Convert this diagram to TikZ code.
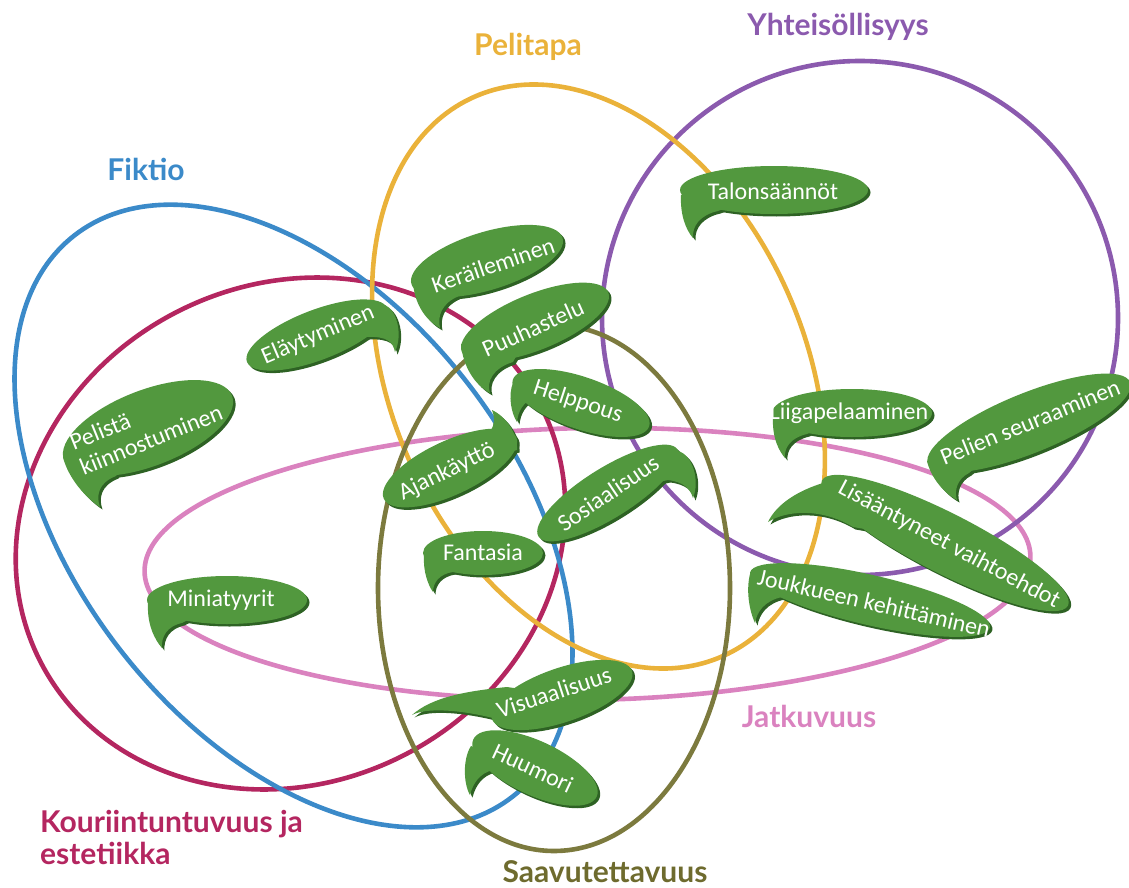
\documentclass[tikz,border=0pt]{standalone}
\usepackage{fontspec}
\setmainfont{Carlito}
\newfontfamily\titlefont{Lato}
\definecolor{corange}{HTML}{EAB23A}
\definecolor{cpurple}{HTML}{8B5AAE}
\definecolor{cblue}{HTML}{3B8AC9}
\definecolor{ccrimson}{HTML}{B42660}
\definecolor{cpink}{HTML}{DA82BF}
\definecolor{colive}{HTML}{7C7A3E}
\definecolor{ctolive}{HTML}{6E6B2E}
\definecolor{bgreen}{HTML}{52983E}
\definecolor{bshadow}{HTML}{2E6224}
\tikzset{
  ring/.style={line width=4.6pt},
  bubfill/.style={fill=bgreen},
  bubshadow/.style={fill=bshadow},
  btext/.style={text=white,inner sep=0pt,font=\fontsize{24}{27}\selectfont},
  ttl/.style={inner sep=0pt,font=\titlefont\bfseries\fontsize{30}{32}\selectfont},
}
\newcommand\bub[6]{%
  \begin{scope}[shift={(#1+2.5,-#2-2.5)}]
    \fill[bubshadow,rotate=#3] (0,0) ellipse [x radius=#4, y radius=#5];
    \fill[bubshadow] #6;
  \end{scope}
  \begin{scope}[shift={(#1,-#2)}]
    \fill[bubfill,rotate=#3] (0,0) ellipse [x radius=#4, y radius=#5];
    \fill[bubfill] #6;
  \end{scope}}
\begin{document}
\begin{tikzpicture}[x=1pt,y=1pt]
\useasboundingbox (0,0) rectangle (1129,-888);
% category ellipses
\draw[ring,cpink] (587.5,-564) ellipse [x radius=443, y radius=136, rotate=1];
\draw[ring,ccrimson,rotate around={27:(290.5,-533.5)}] (290.5,-533.5) ellipse [x radius=281, y radius=249];
\draw[ring,cblue,rotate around={38:(293.5,-516)}] (293.5,-516) ellipse [x radius=219, y radius=356];
\draw[ring,cpurple] (860,-318) ellipse [x radius=258, y radius=257];
\draw[ring,corange,rotate around={24:(598.5,-376.5)}] (598.5,-376.5) ellipse [x radius=207, y radius=306];
\draw[ring,colive] (554,-588) ellipse [x radius=176, y radius=263];
% titles
\node[ttl,text=corange] (tpeli) at (528,-47) {Pelitapa};
\node[ttl,text=cpurple] (tyht) at (838,-27) {Yhteisöllisyys};
\node[ttl,text=cblue] (tfik) at (146,-169) {Fiktio};
\node[ttl,text=ccrimson,align=left,anchor=north west] (tkou) at (40,-810) {Kouriintuntuvuus ja\\estetiikka};
\node[ttl,text=cpink] (tjat) at (809,-716) {Jatkuvuus};
\node[ttl,text=ctolive] (tsaa) at (605,-872) {Saavutettavuus};
% bubbles
\bub{774}{190}{0}{94}{24}{(-93,-5) .. controls (-94,-25) and (-88,-40) .. (-81,-48) .. controls (-82,-36) and (-74,-25) .. (-56,-21) -- (0,0) -- cycle}
\node[btext] (talon) at (773,-191) {Talonsäännöt};
\bub{487}{261}{17}{79}{29}{(-74,-22) .. controls (-72,-45) and (-60,-60) .. (-47,-67) .. controls (-50,-55) and (-45,-42) .. (-28,-35) -- (0,0) -- cycle}
\node[btext,rotate=19] (kerail) at (493,-265) {Keräileminen};
\bub{317}{335}{21}{75}{25}{(68,30) .. controls (80,25) and (86,0) .. (78,-17) .. controls (76,-7) and (70,-1) .. (50,-2) -- (0,0) -- cycle}
\node[btext,rotate=23] (elay) at (318,-335) {Eläytyminen};
\bub{535}{322}{22}{79}{28}{(-74,-22) .. controls (-72,-45) and (-60,-63) .. (-45,-71) .. controls (-49,-60) and (-42,-46) .. (-22,-40) -- (0,0) -- cycle}
\node[btext,rotate=24] (puuh) at (533,-328) {Puuhastelu};
\bub{581}{403}{-19}{72}{26}{(-68,20) .. controls (-73,8) and (-70,-10) .. (-64,-19) .. controls (-63,-9) and (-58,2) .. (-45,6) -- (0,0) -- cycle}
\node[btext,rotate=-18] (help) at (578,-402) {Helppous};
\bub{450}{468}{25}{73}{27}{(67,18) .. controls (68,35) and (55,52) .. (42,58) .. controls (46,48) and (44,36) .. (32,28) -- (0,0) -- cycle}
\node[btext,rotate=26] (ajan) at (447,-472) {Ajankäyttö};
\bub{608}{493}{32}{82}{25}{(70,42) .. controls (85,38) and (92,12) .. (85,-5) .. controls (82,5) and (75,11) .. (60,13) -- (0,0) -- cycle}
\node[btext,rotate=34] (sosi) at (608,-493) {Sosiaalisuus};
\bub{483}{553}{0}{60}{22}{(-59,-3) .. controls (-60,-18) and (-55,-32) .. (-50,-39) .. controls (-50,-30) and (-44,-21) .. (-30,-19) -- (0,0) -- cycle}
\node[btext] (fant) at (483,-552) {Fantasia};
\bub{227}{600}{0}{80}{24}{(-79,-4) .. controls (-80,-25) and (-72,-40) .. (-65,-48) .. controls (-66,-37) and (-60,-26) .. (-45,-23) -- (0,0) -- cycle}
\node[btext] (mini) at (221,-600) {Miniatyyrit};
\bub{148}{428}{21}{90}{38}{(-85,-29) .. controls (-80,-50) and (-62,-70) .. (-48,-79) .. controls (-52,-68) and (-50,-55) .. (-32,-48) -- (0,0) -- cycle}
\node[btext,rotate=22,align=left] (peli) at (146,-427) {Pelistä\\kiinnostuminen};
\bub{852}{413}{0}{80}{24}{(-79,-4) .. controls (-80,-25) and (-73,-38) .. (-67,-45) .. controls (-68,-35) and (-62,-25) .. (-45,-21) -- (0,0) -- cycle}
\node[btext] (liiga) at (849,-413) {Liigapelaaminen};
\bub{1029}{423}{22}{109}{30}{(-102,-38) .. controls (-98,-55) and (-85,-70) .. (-72,-77) .. controls (-75,-68) and (-72,-56) .. (-60,-50) -- (0,0) -- cycle}
\node[btext,rotate=22] (seur) at (1030,-422) {Pelien seuraaminen};
\bub{945}{543}{-27}{138}{30}{(-122,60) .. controls (-145,53) and (-168,40) .. (-177,21) .. controls (-160,32) and (-125,36) .. (-92,16) -- (0,0) -- cycle}
\node[btext,rotate=-28] (lisa) at (949,-545) {Lisääntyneet vaihtoehdot};
\bub{870}{600}{-13}{123}{25}{(-120,26) .. controls (-124,10) and (-121,-10) .. (-115,-23) .. controls (-113,-12) and (-106,-1) .. (-88,3) -- (0,0) -- cycle}
\node[btext,rotate=-13] (jouk) at (874,-603) {Joukkueen kehittäminen};
\bub{562}{695}{19}{74}{27}{(-55,8) .. controls (-95,4) and (-130,-2) .. (-150,-20) .. controls (-135,-12) and (-100,-15) .. (-65,-24) -- (0,0) -- cycle}
\node[btext,rotate=18] (visu) at (554,-692) {Visuaalisuus};
\bub{535}{768}{-25}{68}{27}{(-64,22) .. controls (-72,10) and (-72,-15) .. (-65,-27) .. controls (-62,-15) and (-55,-5) .. (-42,-2) -- (0,0) -- cycle}
\node[btext,rotate=-25] (huum) at (533,-768) {Huumori};
\end{tikzpicture}
\end{document}
